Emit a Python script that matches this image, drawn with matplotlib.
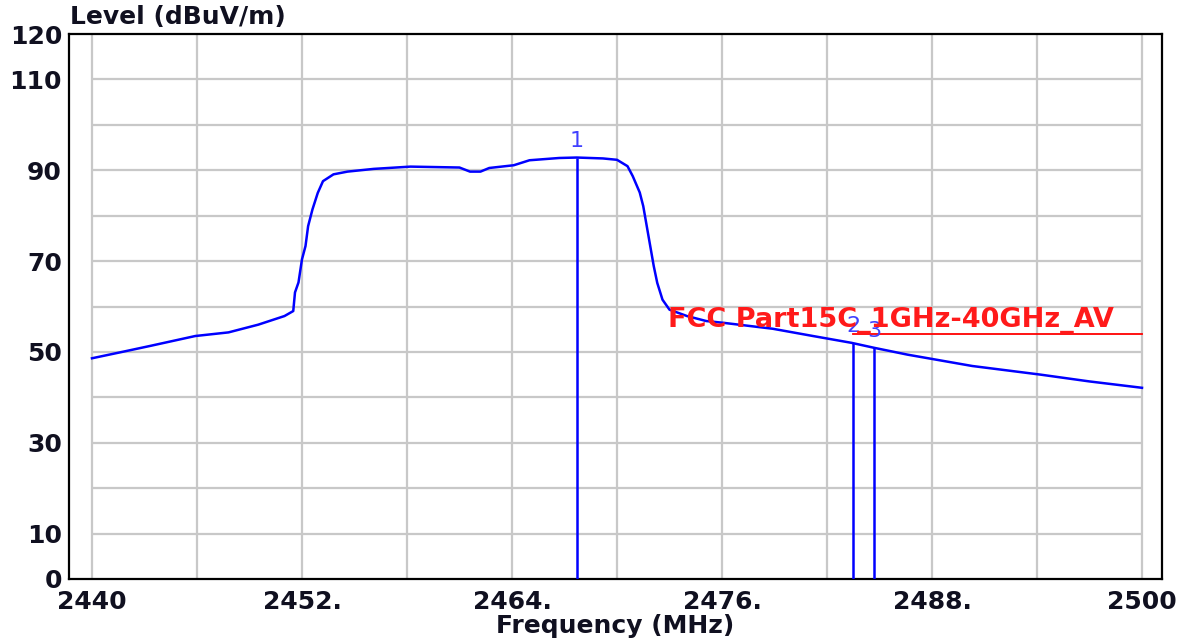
"""Spectrum analyser style plot: band-edge emission around 2.4 GHz."""

import matplotlib

matplotlib.use("Agg")
import matplotlib.pyplot as plt

plt.rcParams["font.family"] = "DejaVu Sans"
plt.rcParams["font.weight"] = "bold"

# measured trace (MHz, dBuV/m)
freq = [2440.0, 2441.6, 2443.3, 2445.9, 2447.8, 2449.5, 2451.0, 2451.5, 2451.6, 2451.8,
        2452.0, 2452.2, 2452.35, 2452.6, 2452.9, 2453.2, 2453.8, 2454.6, 2456.1, 2458.2,
        2461.0, 2461.6, 2462.2, 2462.7, 2464.1, 2465.0, 2466.7, 2467.7, 2469.2, 2470.0,
        2470.6, 2470.9, 2471.3, 2471.5, 2471.7, 2471.9, 2472.1, 2472.3, 2472.6, 2473.0,
        2474.0, 2475.1, 2476.1, 2478.9, 2481.2, 2483.4, 2484.7, 2486.6, 2490.3, 2494.2,
        2497.0, 2500.0]
level = [48.6, 49.9, 51.3, 53.5, 54.3, 56.0, 57.9, 59.0, 63.1, 65.3,
         70.4, 73.3, 77.7, 81.4, 85.0, 87.6, 89.1, 89.7, 90.3, 90.8,
         90.6, 89.7, 89.7, 90.5, 91.1, 92.2, 92.7, 92.8, 92.6, 92.3,
         90.9, 88.7, 85.1, 82.1, 77.7, 73.3, 68.9, 65.2, 61.5, 59.3,
         57.9, 56.8, 56.4, 55.1, 53.5, 52.0, 50.9, 49.4, 46.9, 45.0,
         43.5, 42.1]

marker_freq = [2467.7, 2483.5, 2484.7]
marker_level = [92.8, 52.0, 51.0]
marker_names = ["1", "2", "3"]

limit_freq = [2483.5, 2500.0]
limit_level = [54.0, 54.0]
limit_name = "FCC Part15C_1GHz-40GHz_AV"

x_ticks = [2440, 2452, 2464, 2476, 2488, 2500]
x_labels = ["2440", "2452.", "2464.", "2476.", "2488.", "2500"]
y_ticks = [0, 10, 30, 50, 70, 90, 110, 120]
grid_x = list(range(2440, 2501, 6))
grid_y = list(range(10, 111, 10))

W, H = 1189, 641
fig = plt.figure(figsize=(W / 100, H / 100), dpi=100)
ax = fig.add_axes([69 / W, 62 / H, (1162 - 69) / W, (579 - 34) / H])
ax.set_xlim(2438.686, 2501.143)
ax.set_ylim(0, 120)

# grid only spans the measured band
ax.vlines(grid_x, 0, 120, color="#c8c8c8", lw=1.6, zorder=1)
ax.hlines(grid_y, 2440, 2500, color="#c8c8c8", lw=1.6, zorder=1)

ax.plot(freq, level, color="#0000ff", lw=1.8, zorder=3)

# markers
ax.vlines(marker_freq, 0, marker_level, color="#0000ff", lw=1.8, zorder=3)
for f, lv, name in zip(marker_freq, marker_level, marker_names):
    ax.text(f, lv + 1.5, name, ha="center", va="bottom", fontsize=16,
            fontweight="normal", color="#4040ff", zorder=4)

# limit line
ax.plot(limit_freq, limit_level, color="#ff0000", lw=1.3, zorder=2)
ax.text(2472.9, 55.4, limit_name, ha="left", va="baseline", fontsize=19.5,
        color="#ff1a1a", zorder=4)

ax.set_xticks(x_ticks)
ax.set_xticklabels(x_labels)
ax.set_yticks(y_ticks)
ax.set_yticklabels([str(v) for v in y_ticks])
ax.tick_params(length=0, labelsize=18, labelcolor="#101020")
ax.tick_params(axis="x", pad=8)
ax.tick_params(axis="y", pad=5)
for s in ax.spines.values():
    s.set_linewidth(1.6)
    s.set_color("black")

fig.text(70 / W, 1 - 17 / H, "Level (dBuV/m)", ha="left", va="center",
         fontsize=18, color="#101020")
fig.text(615 / W, 1 - 626 / H, "Frequency (MHz)", ha="center", va="center",
         fontsize=18, color="#101020")

fig.savefig("out.png", dpi=100)
